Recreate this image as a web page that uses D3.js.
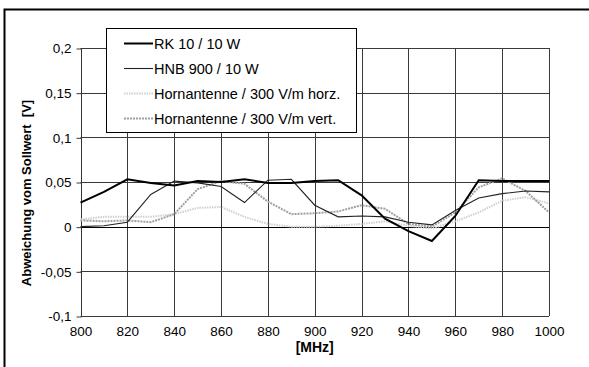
<!DOCTYPE html>
<html><head><meta charset="utf-8">
<script src="https://cdn.jsdelivr.net/npm/d3@7"></script>
<style>
html,body{margin:0;padding:0;background:#fff;}
svg{display:block;font-family:"Liberation Sans",Arial,sans-serif;}
</style></head>
<body>
<svg id="chart" width="589" height="367"></svg>
<script>
const freqs = [800,810,820,830,840,850,860,870,880,890,900,910,920,930,940,950,960,970,980,990,1000];
const rk   = [0.027,0.039,0.053,0.049,0.046,0.051,0.050,0.053,0.049,0.049,0.051,0.052,0.035,0.009,-0.005,-0.016,0.012,0.052,0.051,0.051,0.051];
const hnb  = [0.000,0.001,0.005,0.036,0.051,0.049,0.045,0.027,0.052,0.053,0.024,0.011,0.012,0.011,0.005,0.002,0.018,0.032,0.037,0.040,0.039];
const horz = [0.008,0.011,0.011,0.011,0.014,0.021,0.022,0.011,0.003,0.000,0.000,0.001,0.003,0.006,0.001,-0.002,0.006,0.016,0.029,0.033,0.026];
const vert = [0.007,0.006,0.007,0.005,0.014,0.042,0.051,0.048,0.028,0.014,0.015,0.017,0.024,0.020,0.003,0.000,0.016,0.044,0.054,0.040,0.016];
const seriesNames = ["RK 10 / 10 W","HNB 900 / 10 W","Hornantenne / 300 V/m horz.","Hornantenne / 300 V/m vert."];
const xTicks = [800,820,840,860,880,900,920,940,960,980,1000];
const yTicks = [-0.1,-0.05,0,0.05,0.1,0.15,0.2];
const yTickLabels = ["-0,1","-0,05","0","0,05","0,1","0,15","0,2"];
const xTitle = "[MHz]";
const yTitle = "Abweichung vom Sollwert\u00a0\u00a0[V]";

const styles = [
  {stroke:"#000", width:2, dash:null},
  {stroke:"#222", width:1.1, dash:null},
  {stroke:"#d0d0d0", width:2, dash:"1.5,1"},
  {stroke:"#a0a0a0", width:2, dash:"2,1"}
];
const seriesData = [rk,hnb,horz,vert];

const svg = d3.select("#chart");
const L = 80.5, R = 549, T = 48, B = 316;
const x = d3.scaleLinear().domain([800,1000]).range([L,R]);
const y = d3.scaleLinear().domain([-0.1,0.2]).range([B,T]);
const FONT = "'Liberation Sans',Arial,sans-serif";

// outer frame (top & left)
svg.append("path").attr("d",`M4.5,367 V9.5 H589`).attr("fill","none").attr("stroke","#000").attr("stroke-width",2);

// grid
const g = svg.append("g");
g.selectAll("line.v").data(xTicks).enter().append("line")
  .attr("x1",d=>Math.round(x(d))+0.5).attr("x2",d=>Math.round(x(d))+0.5)
  .attr("y1",T).attr("y2",B).attr("stroke","#3a3a3a").attr("stroke-width",1);
g.selectAll("line.h").data(yTicks).enter().append("line")
  .attr("x1",L).attr("x2",R)
  .attr("y1",d=>Math.round(y(d))+0.5).attr("y2",d=>Math.round(y(d))+0.5)
  .attr("stroke",d=>d===0?"#000":"#3a3a3a").attr("stroke-width",1);

// y axis
const yAxis = d3.axisLeft(y).tickValues(yTicks).tickSize(5).tickPadding(5)
  .tickFormat((d,i)=>yTickLabels[i]);
const ya = svg.append("g").attr("transform",`translate(${Math.round(L)+0.5},0.5)`).call(yAxis);
ya.select(".domain").remove();
ya.selectAll(".tick line").attr("stroke","#3a3a3a");
ya.selectAll(".tick text").attr("font-size","13.5px").attr("fill","#000").attr("font-family",FONT);
svg.append("line").attr("x1",Math.round(L)+0.5).attr("x2",Math.round(L)+0.5).attr("y1",T).attr("y2",B).attr("stroke","#333");

// x axis labels at bottom
const xAxis = d3.axisBottom(x).tickValues(xTicks).tickSize(0).tickPadding(10).tickFormat(d3.format("d"));
const xa = svg.append("g").attr("transform",`translate(0,${B})`).call(xAxis);
xa.select(".domain").remove();
xa.selectAll(".tick text").attr("font-size","13.5px").attr("fill","#000").attr("font-family",FONT);

// titles
svg.append("text").attr("x",(L+R)/2).attr("y",352).attr("text-anchor","middle")
  .attr("font-size","14px").attr("font-weight","bold").text(xTitle);
svg.append("text").attr("transform","translate(31,193) rotate(-90)").attr("text-anchor","middle")
  .attr("font-size","13px").attr("font-weight","bold").text(yTitle);

// lines
const line = d3.line().x((d,i)=>x(freqs[i])).y(d=>y(d));
const order = [2,3,1,0];
order.forEach(k=>{
  svg.append("path").datum(seriesData[k]).attr("d",line)
    .attr("fill","none").attr("stroke",styles[k].stroke).attr("stroke-width",styles[k].width)
    .attr("stroke-dasharray",styles[k].dash).attr("stroke-linejoin","miter");
});

// legend
const lg = svg.append("g");
lg.append("rect").attr("x",106.5).attr("y",28.5).attr("width",250).attr("height",104)
  .attr("fill","#fff").attr("stroke","#000").attr("stroke-width",1);
seriesNames.forEach((name,i)=>{
  const cy = 43.5 + i*25;
  lg.append("line").attr("x1",124).attr("x2",153).attr("y1",cy).attr("y2",cy)
    .attr("stroke",styles[i].stroke).attr("stroke-width",styles[i].width).attr("stroke-dasharray",styles[i].dash);
  lg.append("text").attr("x",154).attr("y",cy).attr("dy","0.35em").attr("font-size","14.5px").text(name);
});
</script>
</body></html>
